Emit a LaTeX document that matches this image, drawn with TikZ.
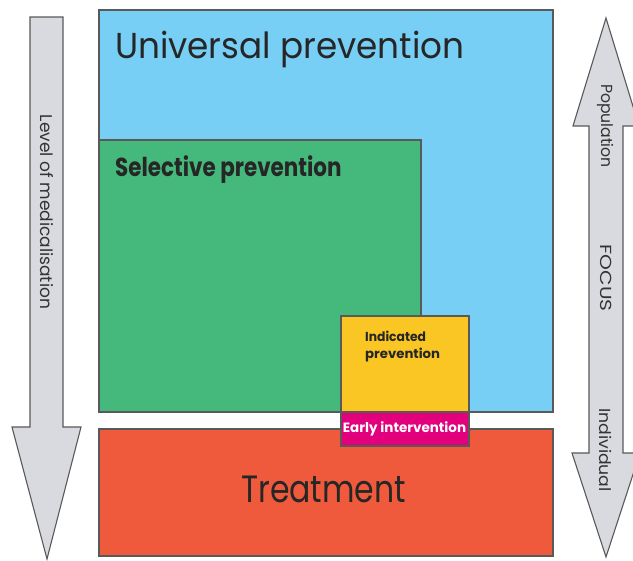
\documentclass[tikz,border=0pt]{standalone}
\usepackage{fontspec}
\setmainfont{Poppins}
\begin{document}
\begin{tikzpicture}[x=1pt,y=-1pt,
  box/.style={draw=black!65,line width=1.3pt,anchor=north west,inner sep=0pt,outer sep=0pt},
  arr/.style={draw=black!65,fill=arrowgray,line width=1.1pt,line join=miter},
  lbl/.style={inner sep=0pt,anchor=base west,text=black!85},
  side/.style={rotate=-90,inner sep=0pt,text=black!80}]
\definecolor{cblue}{HTML}{78CFF5}
\definecolor{cgreen}{HTML}{45B87C}
\definecolor{cyellow}{HTML}{F9C623}
\definecolor{cmag}{HTML}{E2007D}
\definecolor{cred}{HTML}{EF5A3C}
\definecolor{arrowgray}{HTML}{D9DADF}
\useasboundingbox (0,0) rectangle (633,561);
\clip (0,0) rectangle (633,561);
\fill[white] (0,0) rectangle (633,561);
% left arrow
\draw[arr] (30,17) -- (63,17) -- (63,427) -- (81,427) -- (47,559) -- (12,427) -- (30,427) -- cycle;
\node[side,font=\fontsize{17}{17}\selectfont] (lvl) at (46.5,212) {Level of medicalisation};
% right arrow
\draw[arr] (606,18) -- (639,126) -- (623,126) -- (623,453) -- (640,453) -- (606,557) -- (572,453) -- (589,453) -- (589,126) -- (573,126) -- cycle;
\node[side,font=\fontsize{16}{16}\selectfont] (pop) at (606,126) {\scalebox{0.98}[1]{Population}};
\node[side,font=\fontsize{16}{16}\selectfont] (foc) at (606,278) {\scalebox{1.26}[1]{FOCUS}};
\node[side,font=\fontsize{16}{16}\selectfont] (ind) at (606,450) {\scalebox{1.08}[1]{Individual}};
% boxes
\node[box,fill=cblue,minimum width=454pt,minimum height=402pt] (univ) at (99,10) {};
\node[box,fill=cgreen,minimum width=322pt,minimum height=272pt] (sel) at (99,140) {};
\node[box,fill=cred,minimum width=454pt,minimum height=127pt] (treat) at (99,429) {};
\node[box,fill=cyellow,minimum width=128pt,minimum height=96pt] (indb) at (341,316) {};
\node[box,fill=cmag,minimum width=128pt,minimum height=34pt] (early) at (341,412) {};
% labels
\node[lbl,font=\fontsize{36}{36}\selectfont] (univt) at (115,59) {\scalebox{0.95}[1]{Universal prevention}};
\node[lbl,font=\bfseries\fontsize{26}{26}\selectfont] (selt) at (115,177) {\scalebox{0.825}[1]{Selective prevention}};
\node[lbl,font=\fontsize{38}{38}\selectfont] (treatt) at (241,503) {\scalebox{0.83}[1]{Treatment}};
\node[lbl,font=\bfseries\fontsize{13}{13}\selectfont] (indt1) at (365,342) {\scalebox{0.95}[1]{Indicated}};
\node[lbl,font=\bfseries\fontsize{13}{13}\selectfont] (indt2) at (365,359) {\scalebox{1.02}[1]{prevention}};
\node[inner sep=0pt,anchor=base,font=\bfseries\fontsize{13.5}{13.5}\selectfont,text=white] (earlyt) at (404.5,433) {Early intervention};
\end{tikzpicture}
\end{document}
